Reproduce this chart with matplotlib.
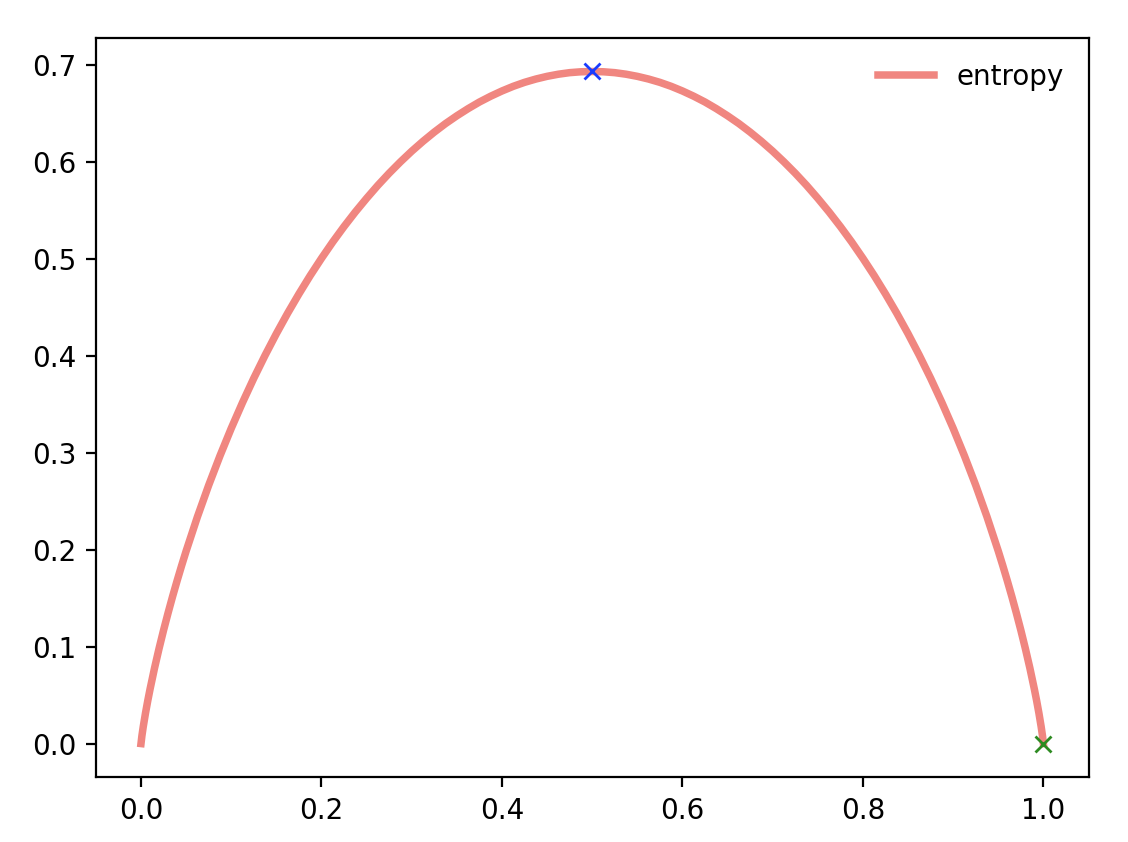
import matplotlib
matplotlib.use("Agg")
import matplotlib.pyplot as plt

# values (left half, up to the peak)
p_left = [0.0, 0.001, 0.0025, 0.005, 0.0075, 0.01, 0.015, 0.02, 0.025, 0.03,
          0.035, 0.04, 0.045, 0.05, 0.0625, 0.075, 0.0875, 0.1, 0.1125, 0.125,
          0.1375, 0.15, 0.1625, 0.175, 0.1875, 0.2, 0.2125, 0.225, 0.2375,
          0.25, 0.2625, 0.275, 0.2875, 0.3, 0.3125, 0.325, 0.3375, 0.35,
          0.3625, 0.375, 0.3875, 0.4, 0.4125, 0.425, 0.4375, 0.45, 0.4625,
          0.475, 0.4875, 0.5]
h_left = [0.0, 0.0079, 0.0175, 0.0315, 0.0442, 0.0560, 0.0779, 0.0980, 0.1169,
          0.1347, 0.1517, 0.1679, 0.1835, 0.1985, 0.2338, 0.2664, 0.2967,
          0.3251, 0.3517, 0.3768, 0.4004, 0.4227, 0.4438, 0.4637, 0.4826,
          0.5004, 0.5173, 0.5332, 0.5482, 0.5623, 0.5757, 0.5882, 0.5999,
          0.6109, 0.6211, 0.6306, 0.6394, 0.6474, 0.6548, 0.6616, 0.6676,
          0.6730, 0.6778, 0.6819, 0.6853, 0.6881, 0.6903, 0.6919, 0.6928,
          0.6931]
# right half, after the peak
p_right = [0.5125, 0.525, 0.5375, 0.55, 0.5625, 0.575, 0.5875, 0.6, 0.6125,
           0.625, 0.6375, 0.65, 0.6625, 0.675, 0.6875, 0.7, 0.7125, 0.725,
           0.7375, 0.75, 0.7625, 0.775, 0.7875, 0.8, 0.8125, 0.825, 0.8375,
           0.85, 0.8625, 0.875, 0.8875, 0.9, 0.9125, 0.925, 0.9375, 0.95,
           0.955, 0.96, 0.965, 0.97, 0.975, 0.98, 0.985, 0.99, 0.9925, 0.995,
           0.9975, 0.999, 1.0]
h_right = [0.6928, 0.6919, 0.6903, 0.6881, 0.6853, 0.6819, 0.6778, 0.6730,
           0.6676, 0.6616, 0.6548, 0.6474, 0.6394, 0.6306, 0.6211, 0.6109,
           0.5999, 0.5882, 0.5757, 0.5623, 0.5482, 0.5332, 0.5173, 0.5004,
           0.4826, 0.4637, 0.4438, 0.4227, 0.4004, 0.3768, 0.3517, 0.3251,
           0.2967, 0.2664, 0.2338, 0.1985, 0.1835, 0.1679, 0.1517, 0.1347,
           0.1169, 0.0980, 0.0779, 0.0560, 0.0442, 0.0315, 0.0175, 0.0079, 0.0]
max_pt = (0.5, 0.6931)
end_pt = (1.0, 0.0)

p = p_left + p_right
h = h_left + h_right

fig = plt.figure(figsize=(5.64, 4.21), dpi=200)
ax = fig.add_subplot(1, 1, 1)
ax.plot(p, h, color='#f08680', lw=2.7, label='entropy', zorder=1,
        solid_joinstyle='round')
ax.plot([max_pt[0]], [max_pt[1]], 'x', color='#1a3cff', ms=5.5, zorder=2)
ax.plot([end_pt[0]], [end_pt[1]], 'x', color='#2e8b22', ms=5.5, zorder=2)
ax.legend(loc='upper right', frameon=False)
fig.subplots_adjust(left=0.085, right=0.965, bottom=0.077, top=0.955)
fig.savefig('out.png', dpi=200)
plt.close(fig)
